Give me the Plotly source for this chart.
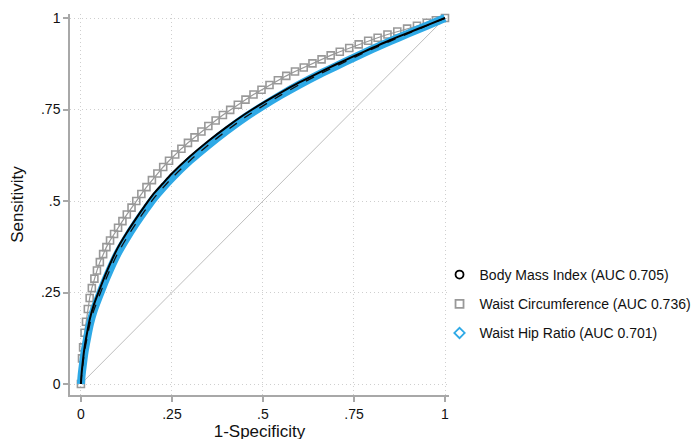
import plotly.graph_objects as go

# ---- data ----
bmi_fpr = [0, 0.002, 0.005, 0.01, 0.017, 0.025, 0.035, 0.05, 0.07, 0.1, 0.125, 0.15, 0.175,
           0.2, 0.225, 0.25, 0.3, 0.35, 0.4, 0.45, 0.5, 0.55, 0.6, 0.65, 0.7, 0.75, 0.8,
           0.85, 0.9, 0.95, 1.0]
bmi_tpr = [0, 0.03, 0.06, 0.10, 0.14, 0.18, 0.215, 0.255, 0.305, 0.37, 0.412, 0.45, 0.486,
           0.52, 0.548, 0.575, 0.622, 0.664, 0.702, 0.737, 0.768, 0.797, 0.824, 0.849, 0.873,
           0.896, 0.918, 0.94, 0.96, 0.98, 1.0]

whr_fpr = bmi_fpr
whr_tpr = [0, 0.025, 0.05, 0.088, 0.126, 0.165, 0.2, 0.24, 0.29, 0.355, 0.398, 0.437, 0.473,
           0.507, 0.536, 0.563, 0.611, 0.653, 0.692, 0.728, 0.76, 0.79, 0.818, 0.844, 0.868,
           0.892, 0.915, 0.937, 0.958, 0.979, 1.0]

wc_fpr = [0.000, 0.003, 0.006, 0.010, 0.014, 0.019, 0.024, 0.030, 0.037, 0.044, 0.052, 0.061,
          0.070, 0.080, 0.091, 0.102, 0.114, 0.126, 0.139, 0.152, 0.166, 0.180, 0.195, 0.210,
          0.226, 0.242, 0.259, 0.276, 0.294, 0.312, 0.331, 0.350, 0.370, 0.390, 0.410, 0.431,
          0.452, 0.474, 0.496, 0.518, 0.541, 0.564, 0.588, 0.612, 0.636, 0.661, 0.686, 0.711,
          0.737, 0.763, 0.789, 0.815, 0.842, 0.869, 0.896, 0.923, 0.950, 0.975, 1.000]
wc_tpr = [0.000, 0.07, 0.10, 0.14, 0.17, 0.205, 0.235, 0.262, 0.288, 0.31, 0.333, 0.355,
          0.374, 0.392, 0.41, 0.427, 0.445, 0.463, 0.482, 0.500, 0.519, 0.538, 0.557, 0.575,
          0.593, 0.610, 0.627, 0.643, 0.659, 0.674, 0.690, 0.705, 0.720, 0.735, 0.749, 0.763,
          0.777, 0.791, 0.804, 0.817, 0.830, 0.842, 0.854, 0.865, 0.876, 0.887, 0.898, 0.908,
          0.918, 0.928, 0.938, 0.946, 0.955, 0.963, 0.971, 0.979, 0.987, 0.994, 1.000]

ref_x = [0, 1]
ref_y = [0, 1]

names = ["Body Mass Index (AUC 0.705)",
         "Waist Circumference (AUC 0.736)",
         "Waist Hip Ratio (AUC 0.701)"]
tick_vals = [0, 0.25, 0.5, 0.75, 1]
tick_text = ["0", ".25", ".5", ".75", "1"]

BLUE = "#2EA9E6"
GRAY = "#999999"
FONT = "Liberation Sans, Arial, Helvetica, sans-serif"

fig = go.Figure()

# reference diagonal
fig.add_trace(go.Scatter(x=ref_x, y=ref_y, mode="lines",
                         line=dict(color="#bdbdbd", width=1), showlegend=False,
                         hoverinfo="skip"))
# Waist Circumference (gray squares)
fig.add_trace(go.Scatter(x=wc_fpr, y=wc_tpr, mode="lines+markers",
                         line=dict(color=GRAY, width=1.2),
                         marker=dict(symbol="square-open", size=7, color=GRAY,
                                     line=dict(width=1.6, color=GRAY)),
                         showlegend=False, cliponaxis=False))
# Waist Hip Ratio (blue band)
fig.add_trace(go.Scatter(x=whr_fpr, y=whr_tpr, mode="lines",
                         line=dict(color=BLUE, width=8, shape="spline", smoothing=0.8),
                         showlegend=False, cliponaxis=False))
fig.add_trace(go.Scatter(x=whr_fpr, y=whr_tpr, mode="lines",
                         line=dict(color="#111111", width=1.3, dash="dash",
                                   shape="spline", smoothing=0.8),
                         showlegend=False, cliponaxis=False))
# Body Mass Index (black)
fig.add_trace(go.Scatter(x=bmi_fpr, y=bmi_tpr, mode="lines",
                         line=dict(color="#000000", width=2, shape="spline", smoothing=0.8),
                         showlegend=False, cliponaxis=False))

# legend entries
leg_styles = [("circle-open", "#000000"), ("square-open", GRAY), ("diamond-open", BLUE)]
for i, (nm, (sym, col)) in enumerate(zip(names, leg_styles)):
    fig.add_trace(go.Scatter(x=[None], y=[None], mode="markers", name=nm,
                             legendgroup=f"g{i}",
                             marker=dict(symbol=sym, size=8, color=col,
                                         line=dict(width=1.8, color=col))))

axis_common = dict(
    tickvals=tick_vals, ticktext=tick_text,
    showline=True, linecolor="#a8a8a8", linewidth=1.5,
    ticks="outside", ticklen=5, tickwidth=1.5, tickcolor="#a8a8a8",
    showgrid=True, gridcolor="#cfcfcf", gridwidth=1, griddash="1px,3px",
    zeroline=False, mirror=False, automargin=False,
    tickfont=dict(family=FONT, size=14, color="#111111"),
    range=[-0.03, 1.011], fixedrange=True,
)

fig.update_layout(
    width=700, height=439,
    margin=dict(l=62, r=259, t=6, b=52, autoexpand=False),
    paper_bgcolor="white", plot_bgcolor="white",
    font=dict(family=FONT, color="#111111"),
    xaxis=dict(**axis_common,
               title=dict(text="1-Specificity", font=dict(size=17), standoff=2)),
    yaxis=dict(**axis_common,
               title=dict(text="Sensitivity", font=dict(size=17), standoff=15)),
    legend=dict(x=0.975, xanchor="left", y=0.357, yanchor="top",
                font=dict(family=FONT, size=14, color="#111111"),
                traceorder="grouped", tracegroupgap=8, itemwidth=30,
                bgcolor="rgba(0,0,0,0)"),
)

fig.write_html("out.html")
